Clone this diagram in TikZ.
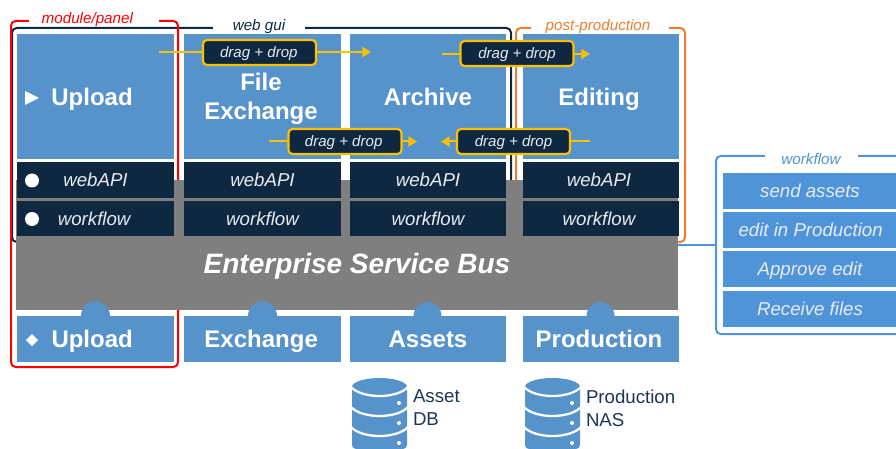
\documentclass[tikz,border=0pt]{standalone}
\usepackage{fontspec}
\setmainfont{Liberation Sans}
\newfontface\itface{Liberation Sans Italic}
\newfontface\bifaceesb{Liberation Sans Bold Italic}
\usetikzlibrary{arrows.meta}
\definecolor{bluebox}{HTML}{5793CB}
\definecolor{wfblue}{HTML}{4F94D8}
\definecolor{navy}{HTML}{0F2841}
\definecolor{esbgray}{HTML}{7F7F7F}
\definecolor{dragy}{HTML}{FFC000}
\definecolor{postor}{HTML}{ED7D31}
\definecolor{softw}{HTML}{E8ECF1}
\definecolor{dbtext}{HTML}{1B3552}
\newcommand\hdfont{\fontsize{18}{21.75}\selectfont\bfseries}
\newcommand\apifont{\itface\fontsize{14}{17}\selectfont}
\newcommand\smfont{\itface\fontsize{11.4}{14}\selectfont}
\tikzset{
  x=0.75pt,y=-0.75pt,
  sz/.style 2 args={minimum width=#1*0.75pt,minimum height=#2*0.75pt},
  base/.style={inner sep=0pt,outer sep=0pt},
  bluetop/.style={base,fill=bluebox,sz={157}{125}},
  toptext/.style={base,text=white,font=\hdfont,align=center,text height=13pt,text depth=0pt},
  apibox/.style={base,fill=navy,text=softw,font=\apifont,text height=10pt,text depth=0pt},
  bottombox/.style={base,fill=bluebox,text=white,font=\hdfont,sz={157}{46},text height=13pt,text depth=0pt},
  dragbox/.style={base,draw=dragy,line width=1.6pt,fill=navy,text=softw,rounded corners=3pt,
    font=\itface\fontsize{11.3}{14}\selectfont,sz={113}{25},text height=8.2pt,text depth=0pt},
  dragline/.style={draw=dragy,line width=1.5pt},
  dragarrow/.style={dragline,-{Triangle[length=6.5pt,width=7.5pt]}},
  panel/.style={base,draw=#1,fill=none,line width=1.5pt,rounded corners=3.5pt},
  gaplabel/.style={base,fill=white,font=\smfont,text height=8.2pt,text depth=0pt},
  wfbox/.style={base,fill=wfblue,text=softw,font=\apifont,sz={174}{36},text height=10pt,text depth=0pt},
  dbtxt/.style={base,anchor=west,align=left,text=dbtext,font=\fontsize{14}{17.25}\selectfont},
  bump/.style={fill=bluebox},
}
\begin{document}
\begin{tikzpicture}
\useasboundingbox (0,0) rectangle (896,449);
\clip (0,0) rectangle (896,449);
% panels
\node[panel=navy,sz={499}{214}] (webgui) at (261.5,135) {};
\node[panel=postor,sz={169}{214}] (post) at (600.5,135) {};
\node[panel=red,sz={167}{346}] (module) at (94.5,194) {};
\node[panel=wfblue,sz={200}{178}] (wfpanel) at (816,245) {};
\node[gaplabel,text=navy,sz={92}{13}] (lweb) at (259,25) {web gui};
\node[gaplabel,text=postor,sz={138}{13}] (lpost) at (600,25) {\kern-3pt post-production};
\node[gaplabel,text=red,sz={130}{13}] (lmod) at (94,18) {\kern-10pt module/panel};
\node[gaplabel,text=wfblue,sz={93}{13}] (lwf) at (811,159) {workflow};
% bus
\node[base,fill=esbgray,sz={662}{130}] (esb) at (347,245) {};
\draw[draw=wfblue,line width=1.5pt] (esb.east) -- (wfpanel.west);
\node[base,text=white,font=\bifaceesb\fontsize{21}{25}\selectfont,text height=15pt,text depth=0pt] (esbl) at (357,263) {Enterprise Service Bus};
% top boxes
\node[bluetop] (t1) at (95.5,96.5) {};
\node[bluetop] (t2) at (262.5,96.5) {};
\node[bluetop,sz={156}{125}] (t3) at (428,96.5) {};
\node[bluetop,sz={156}{125}] (t4) at (601,96.5) {};
\node[toptext] (t1t) at (92,97) {Upload};
\node[base,text=white,font=\hdfont,align=center] (t2t) at (261,98.5) {File\\Exchange};
\node[toptext] (t3t) at (428,97) {Archive};
\node[toptext] (t4t) at (599,97) {Editing};
% api rows
\node[apibox,sz={157}{36}] (a1) at (95.5,180) {webAPI};
\node[apibox,sz={157}{36}] (a2) at (262.5,180) {webAPI};
\node[apibox,sz={156}{36}] (a3) at (428,180) {webAPI};
\node[apibox,sz={156}{36}] (a4) at (601,180) {\kern-3pt webAPI};
\node[apibox,sz={157}{35}] (w1) at (95.5,218.5) {\kern-2pt workflow};
\node[apibox,sz={157}{35}] (w2) at (262.5,218.5) {workflow};
\node[apibox,sz={156}{35}] (w3) at (428,218.5) {workflow};
\node[apibox,sz={156}{35}] (w4) at (601,218.5) {\kern-3pt workflow};
% bumps
\fill[bump] (81,316) arc[start angle=180,end angle=360,radius=14.5];
\fill[bump] (248,316) arc[start angle=180,end angle=360,radius=14.5];
\fill[bump] (413.5,316) arc[start angle=180,end angle=360,radius=14];
\fill[bump] (586.5,316) arc[start angle=180,end angle=360,radius=14];
% bottom boxes
\node[bottombox] (b1) at (95.5,339) {\kern-5pt Upload};
\node[bottombox] (b2) at (262.5,339) {\kern-2pt Exchange};
\node[bottombox,sz={156}{46}] (b3) at (428,339) {Assets};
\node[bottombox,sz={156}{46}] (b4) at (601,339) {\kern-3pt Production};
% bullets
\fill[white] (25,91) -- (39,98) -- (25,105) -- cycle;
\fill[white] (32,180.5) circle[radius=7];
\fill[white] (32,219) circle[radius=7];
\fill[white] (26,340) -- (32,334) -- (38,340) -- (32,346) -- cycle;
% drag and drop
\node[dragbox] (d1) at (259.5,52.5) {\kern-1pt drag + drop};
\node[dragbox] (d2) at (517,53.5) {drag + drop};
\node[dragbox] (d3) at (345,141.5) {\kern-2pt drag + drop};
\node[dragbox] (d4) at (513.5,141.5) {drag + drop};
\coordinate (d1a) at (159,52);
\coordinate (d1b) at (371,52);
\coordinate (d2a) at (442,54);
\coordinate (d2b) at (590,54);
\coordinate (d3a) at (269,141.5);
\coordinate (d3b) at (417,141.5);
\coordinate (d4a) at (441,141.5);
\coordinate (d4b) at (590,141.5);
\draw[dragline] (d1a) -- (d1.west |- d1a);
\draw[dragarrow] (d1.east |- d1b) -- (d1b);
\draw[dragline] (d2a) -- (d2.west |- d2a);
\draw[dragarrow] (d2.east |- d2b) -- (d2b);
\draw[dragline] (d3a) -- (d3.west);
\draw[dragarrow] (d3.east) -- (d3b);
\draw[dragarrow] (d4.west) -- (d4a);
\draw[dragline] (d4.east) -- (d4b);
% workflow list
\node[wfbox] (f1) at (810,191) {send assets};
\node[wfbox] (f2) at (810,230) {\kern1pt edit in Production};
\node[wfbox] (f3) at (810,269) {Approve edit};
\node[wfbox] (f4) at (810,309) {Receive files};
% databases
\foreach \ox/\nm in {352/A,525/B}{
  \begin{scope}[shift={(\ox,378)}]
    \fill[bluebox] (0,9) arc[x radius=27.5,y radius=9,start angle=180,end angle=360]
      -- (55,66) [rounded corners=3pt] -- (55,71) -- (0,71) [sharp corners] -- (0,66) -- cycle;
    \foreach \yy in {9,29,49}{
      \draw[white,line width=1.7pt] (-1,\yy) .. controls (10,\yy+12) and (45,\yy+12) .. (56,\yy);
    }
    \foreach \yy in {25,45,65}{
      \fill[white] (47,\yy) circle[radius=2];
    }
  \end{scope}
}
\node[dbtxt] (dbA) at (413,407.5) {Asset\\DB};
\node[dbtxt] (dbB) at (586,408.5) {Production\\NAS};
\end{tikzpicture}
\end{document}
